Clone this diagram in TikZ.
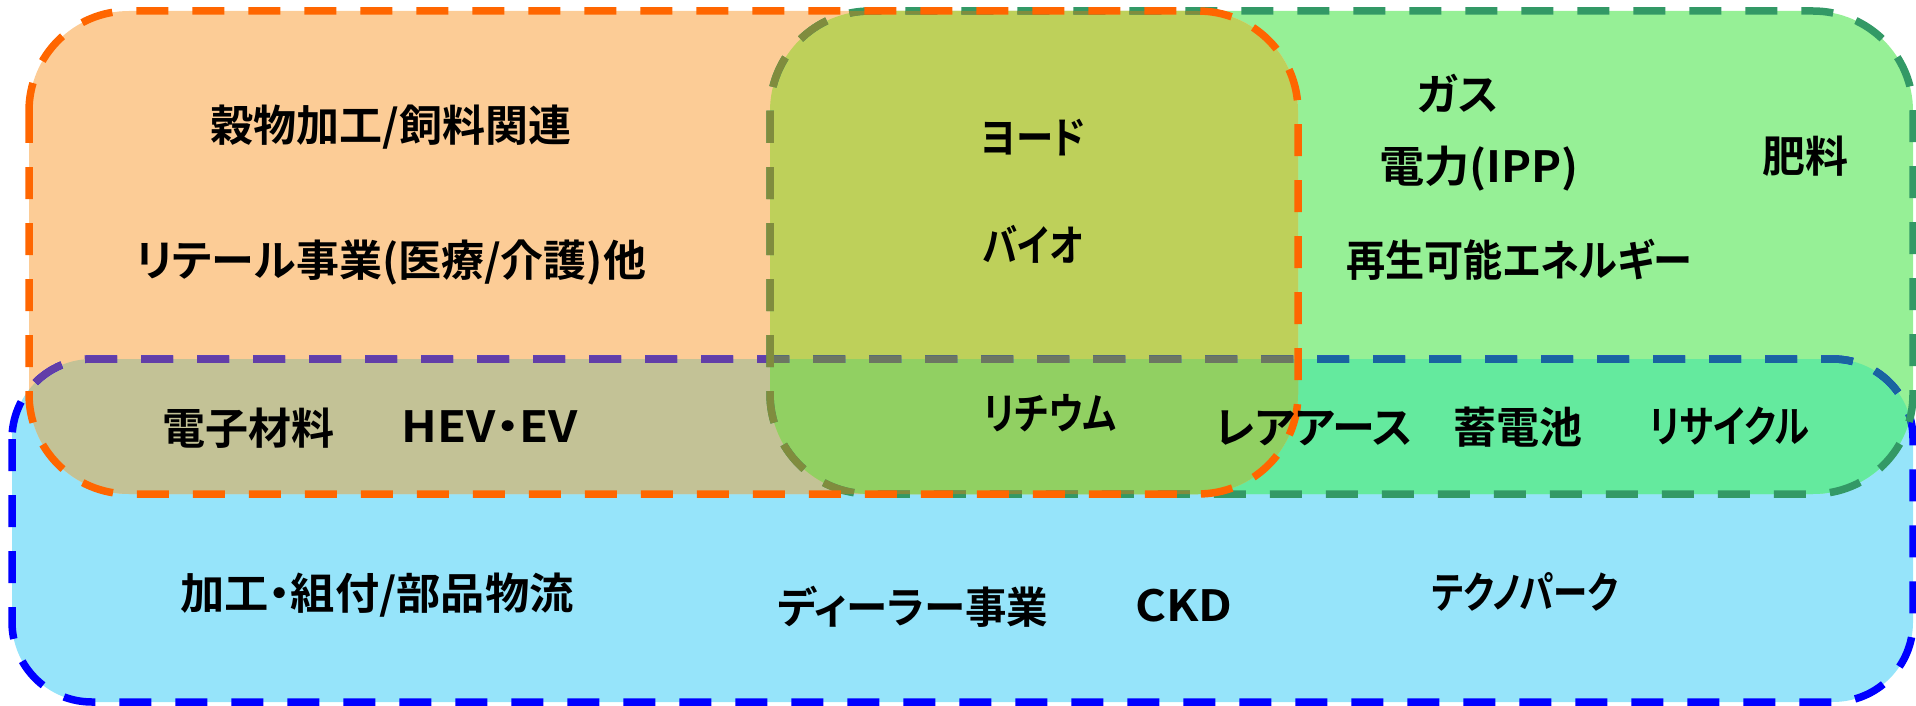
\documentclass[tikz,border=0pt]{standalone}
\usepackage{fontspec}
\setmainfont{Noto Sans CJK JP}[BoldFont={Noto Sans CJK JP Bold}, RawFeature={+palt}]
% border colours
\definecolor{oline}{RGB}{255,102,0}
\definecolor{gline}{RGB}{51,153,102}
\definecolor{gunderO}{RGB}{128,140,62}
\definecolor{bline}{RGB}{0,0,255}
\definecolor{bunderO}{RGB}{98,62,168}
\definecolor{bunderG}{RGB}{25,100,160}
\definecolor{bunderOG}{RGB}{108,118,98}
% region colours
\definecolor{ofill}{RGB}{252,204,150}
\definecolor{gfill}{RGB}{150,240,150}
\definecolor{bfill}{RGB}{150,228,250}
\definecolor{ogfill}{RGB}{190,208,90}
\definecolor{obfill}{RGB}{195,194,150}
\definecolor{gbfill}{RGB}{100,234,158}
\definecolor{ogbfill}{RGB}{145,208,98}
\tikzset{
  region/.style={line width=3.75pt, dash pattern=on 16pt off 12pt},
  rb/.style={rounded corners=40pt},
  rg/.style={rounded corners=50pt},
  lbl/.style={font=\bfseries\fontsize{21.5pt}{26pt}\selectfont, inner sep=0pt, text=black}
}
\begin{document}
\begin{tikzpicture}[x=0.5pt,y=-0.5pt]
\useasboundingbox (0,0) rectangle (1916,706);
\coordinate (B1) at (12,359);  \coordinate (B2) at (1913,702);
\coordinate (G1) at (770,11);  \coordinate (G2) at (1913,494);
\coordinate (O1) at (29,11);   \coordinate (O2) at (1298,494);
% ---- fills
\fill[bfill, rb] (B1) rectangle (B2);
\fill[gfill, rg] (G1) rectangle (G2);
\fill[ofill, rg] (O1) rectangle (O2);
\begin{scope}\clip[rb] (B1) rectangle (B2); \fill[gbfill, rg] (G1) rectangle (G2);\end{scope}
\begin{scope}\clip[rb] (B1) rectangle (B2); \fill[obfill, rg] (O1) rectangle (O2);\end{scope}
\begin{scope}\clip[rg] (G1) rectangle (G2); \fill[ogfill, rg] (O1) rectangle (O2);\end{scope}
\begin{scope}\clip[rb] (B1) rectangle (B2); \clip[rg] (G1) rectangle (G2); \fill[ogbfill, rg] (O1) rectangle (O2);\end{scope}
% ---- borders
\draw[region, bline, rb] (B1) rectangle (B2);
\begin{scope}\clip[rg] (O1) rectangle (O2); \draw[region, bunderO, rb] (B1) rectangle (B2);\end{scope}
\begin{scope}\clip[rg] (G1) rectangle (G2); \draw[region, bunderG, rb] (B1) rectangle (B2);\end{scope}
\begin{scope}\clip[rg] (O1) rectangle (O2); \clip[rg] (G1) rectangle (G2); \draw[region, bunderOG, rb] (B1) rectangle (B2);\end{scope}
\draw[region, gline, rg] (G1) rectangle (G2);
\begin{scope}\clip[rg] (O1) rectangle (O2); \draw[region, gunderO, rg] (G1) rectangle (G2);\end{scope}
\draw[region, oline, rg] (O1) rectangle (O2);
% ---- labels
\node[lbl] (t1) at (391,127) {穀物加工/飼料関連};
\node[lbl] (t2) at (391,263) {リテール事業(医療/介護)他};
\node[lbl] (t3) at (1033,138) {\scalebox{0.87}[1]{ヨード}};
\node[lbl] (t4) at (1033,244) {\scalebox{0.82}[1]{バイオ}};
\node[lbl] (t5) at (1458,93) {ガス};
\node[lbl] (t6) at (1479,169) {\scalebox{1.05}[1]{電力(IPP)}};
\node[lbl] (t7) at (1805,156) {肥料};
\node[lbl] (t8) at (1519,260) {\scalebox{0.91}[1]{再生可能エネルギー}};
\node[lbl] (t9) at (248,428) {電子材料};
\node[lbl] (t10) at (490,427) {\scalebox{1.1}[1]{HEV・EV}};
\node[lbl] (t11) at (1050,413) {\scalebox{0.84}[1]{リチウム}};
\node[lbl] (t12) at (1314,428) {レアアース};
\node[lbl] (t13) at (1518,427) {蓄電池};
\node[lbl] (t14) at (1729,426) {\scalebox{0.82}[1]{リサイクル}};
\node[lbl] (t15) at (377,595) {\scalebox{1.03}[1]{加工・組付/部品物流}};
\node[lbl] (t16) at (913,607) {\scalebox{0.965}[1]{ディーラー事業}};
\node[lbl] (t17) at (1184,606) {\scalebox{1.1}[1]{CKD}};
\node[lbl] (t18) at (1525,592) {\scalebox{0.8}[1]{テクノパーク}};
\end{tikzpicture}
\end{document}
